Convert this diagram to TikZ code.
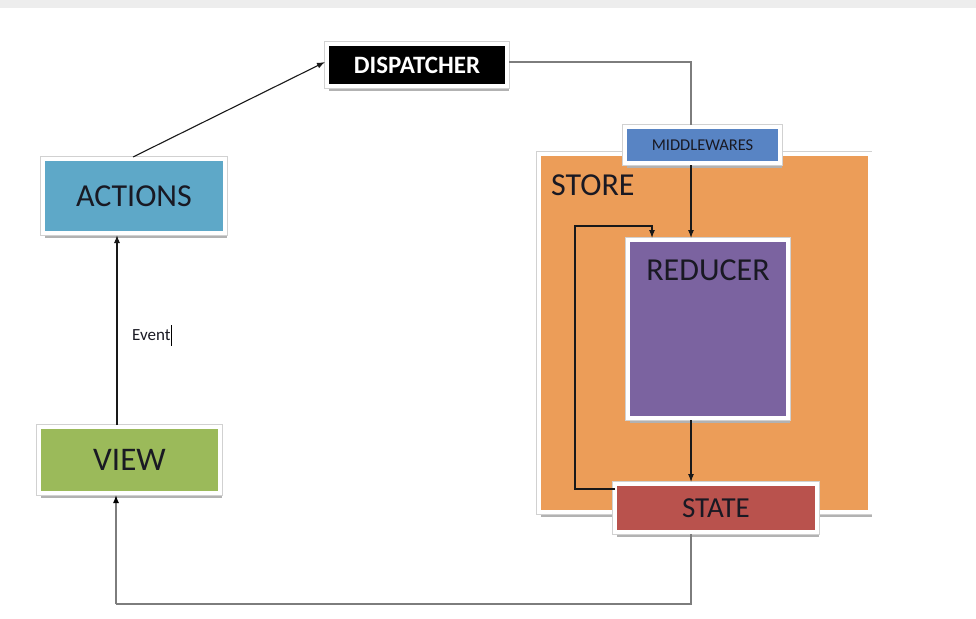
\documentclass[tikz,border=0pt]{standalone}
\usepackage{fontspec}
\setmainfont{Carlito}
\usetikzlibrary{arrows.meta,shadows}
\definecolor{actc}{RGB}{94,168,200}
\definecolor{midc}{RGB}{88,132,196}
\definecolor{storec}{RGB}{236,157,88}
\definecolor{redc}{RGB}{123,99,160}
\definecolor{statec}{RGB}{185,82,77}
\definecolor{viewc}{RGB}{155,186,90}
\definecolor{txtc}{RGB}{25,25,35}
\definecolor{linegray}{RGB}{125,125,125}
\tikzset{
  box/.style={draw=white, line width=4pt, inner sep=0pt, text=txtc,
    drop shadow={shadow xshift=2pt, shadow yshift=-4.5pt, fill=black!30, opacity=1},
    preaction={draw=black!18, line width=5.2pt}},
  arr/.style={-{Latex[length=8pt,width=6pt]}, line width=1.1pt, draw=black!90},
  glinestyle/.style={line width=1.4pt, draw=linegray},
}
\begin{document}
\begin{tikzpicture}[x=1pt,y=-1pt]
\useasboundingbox (0,0) rectangle (976,618);
\fill[black!7] (0,0) rectangle (976,8);

% store
\node[box, fill=storec, minimum width=331pt, minimum height=358pt] (store) at (704,333) {};
\node[anchor=west, text=txtc, font=\fontsize{32}{34}\selectfont, inner sep=0pt] (storelbl) at (551,185) {STORE};

% nodes
\node[box, fill=black, text=white, minimum width=180pt, minimum height=42pt, font=\bfseries\fontsize{25}{27}\selectfont] (disp) at (417,65) {DISPATCHER};
\node[box, fill=actc, minimum width=182pt, minimum height=74pt, font=\fontsize{32}{34}\selectfont] (actions) at (134,196) {ACTIONS};
\node[box, fill=viewc, minimum width=181pt, minimum height=66pt, font=\fontsize{33}{35}\selectfont] (view) at (129.5,460) {VIEW};
\node[box, fill=midc, minimum width=155pt, minimum height=36pt, font=\fontsize{16.5}{18}\selectfont] (mid) at (702.5,145) {MIDDLEWARES};
\node[box, fill=redc, minimum width=160pt, minimum height=178pt] (red) at (708,329) {};
\node[text=txtc, font=\fontsize{32}{34}\selectfont, inner sep=0pt] (redlbl) at (708,270) {REDUCER};
\node[box, fill=statec, minimum width=202pt, minimum height=48pt, font=\fontsize{29}{31}\selectfont] (state) at (716,508) {STATE};

% event label
\node[anchor=west, text=txtc, font=\fontsize{17}{19}\selectfont, inner sep=0pt] (event) at (132,335) {Event};
\draw[black, line width=0.9pt] (event.east) ++(0.5,-10) -- ++(0,21);

% coordinates
\coordinate (colA) at (691,0);
\coordinate (colV) at (117,0);
\coordinate (b1) at (691,604);
\coordinate (b2) at (116,604);
\coordinate (fb1) at (575,226);
\coordinate (fb2) at (652,226);
\coordinate (stin) at (615,489);

% connectors
\draw[arr] ([xshift=-1pt]actions.north) -- ([yshift=3pt]disp.west);
\draw[glinestyle] ([yshift=3pt]disp.east) -| (mid.north -| colA);
\draw[arr] (mid.south -| colA) -- (red.north -| colA);
\draw[arr] (red.south -| colA) -- (state.north -| colA);
\draw[arr] (stin) -| (fb1) -- (fb2) -- (red.north -| fb2);
\draw[arr] (view.north -| colV) -- (actions.south -| colV);
\draw[glinestyle] (state.south -| b1) -- (b1) -- (b2);
\draw[glinestyle, -{Latex[length=8pt,width=6pt,fill=black,color=black]}] (b2) -- (view.south -| b2);
\end{tikzpicture}
\end{document}
